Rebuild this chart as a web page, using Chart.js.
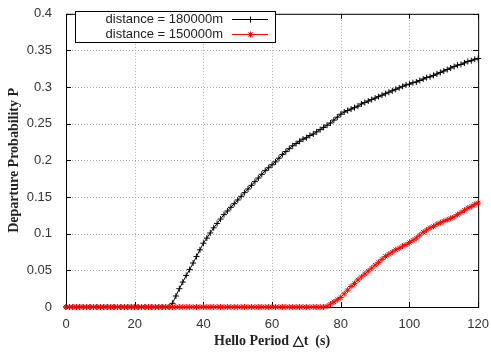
<!DOCTYPE html>
<html>
<head>
<meta charset="utf-8">
<script src="https://cdn.jsdelivr.net/npm/chart.js@4.4.1/dist/chart.umd.min.js"></script>
<style>
  html, body { margin: 0; padding: 0; background: #fff; }
  #wrap { width: 491px; height: 355px; }
</style>
</head>
<body>
<div id="wrap"><canvas id="chart" width="491" height="355"></canvas></div>
<script>
// --- DADOS ---
const periods = [
  0, 1, 2, 3, 4, 5, 6, 7, 8, 9, 10, 11, 12, 13, 14, 15, 16, 17, 18, 19,
  20, 21, 22, 23, 24, 25, 26, 27, 28, 29, 30, 31, 32, 33, 34, 35, 36, 37, 38, 39,
  40, 41, 42, 43, 44, 45, 46, 47, 48, 49, 50, 51, 52, 53, 54, 55, 56, 57, 58, 59,
  60, 61, 62, 63, 64, 65, 66, 67, 68, 69, 70, 71, 72, 73, 74, 75, 76, 77, 78, 79,
  80, 81, 82, 83, 84, 85, 86, 87, 88, 89, 90, 91, 92, 93, 94, 95, 96, 97, 98, 99,
  100, 101, 102, 103, 104, 105, 106, 107, 108, 109, 110, 111, 112, 113, 114, 115, 116, 117, 118, 119,
  120
];

const prob180k = [
  0, 0, 0, 0, 0, 0, 0, 0, 0, 0, 0, 0, 0, 0, 0, 0, 0, 0, 0, 0,
  0, 0, 0, 0, 0, 0, 0, 0, 0, 0, 0, 0.005, 0.015, 0.025, 0.034, 0.043, 0.051, 0.060, 0.069, 0.078,
  0.087, 0.094, 0.101, 0.108, 0.114, 0.120, 0.126, 0.131, 0.136, 0.141, 0.146, 0.151, 0.156, 0.161, 0.166, 0.171, 0.176, 0.181, 0.186, 0.190,
  0.194, 0.198, 0.203, 0.208, 0.212, 0.216, 0.220, 0.223, 0.226, 0.229, 0.231, 0.234, 0.236, 0.239, 0.242, 0.245, 0.248, 0.251, 0.255, 0.259,
  0.263, 0.266, 0.268, 0.270, 0.272, 0.274, 0.277, 0.279, 0.281, 0.283, 0.285, 0.287, 0.289, 0.291, 0.293, 0.295, 0.297, 0.299, 0.301, 0.303,
  0.304, 0.306, 0.307, 0.309, 0.311, 0.313, 0.314, 0.316, 0.318, 0.320, 0.322, 0.324, 0.326, 0.328, 0.330, 0.331, 0.333, 0.335, 0.336, 0.338,
  0.339
];

const prob150k = [
  0, 0, 0, 0, 0, 0, 0, 0, 0, 0, 0, 0, 0, 0, 0, 0, 0, 0, 0, 0,
  0, 0, 0, 0, 0, 0, 0, 0, 0, 0, 0, 0, 0, 0, 0, 0, 0, 0, 0, 0,
  0, 0, 0, 0, 0, 0, 0, 0, 0, 0, 0, 0, 0, 0, 0, 0, 0, 0, 0, 0,
  0, 0, 0, 0, 0, 0, 0, 0, 0, 0, 0, 0, 0, 0, 0, 0, 0.001, 0.004, 0.007, 0.010,
  0.013, 0.018, 0.023, 0.028, 0.032, 0.037, 0.041, 0.045, 0.049, 0.053, 0.057, 0.061, 0.065, 0.069, 0.072, 0.075, 0.078, 0.080, 0.083, 0.085,
  0.088, 0.091, 0.094, 0.098, 0.102, 0.105, 0.108, 0.110, 0.113, 0.115, 0.117, 0.119, 0.121, 0.123, 0.126, 0.129, 0.132, 0.135, 0.137, 0.140,
  0.142
];

const xTicks = [0, 20, 40, 60, 80, 100, 120];
const yTicks = [0, 0.05, 0.1, 0.15, 0.2, 0.25, 0.3, 0.35, 0.4];

const toPoints = (vals) => periods.map((p, i) => ({ x: p, y: vals[i] }));

// --- PLUGIN: grade pontilhada + moldura estilo gnuplot + legenda ---
const frame = {
  id: 'frame',
  beforeDatasetsDraw(chart) {
    const { ctx, chartArea: a, scales } = chart;
    ctx.save();
    // grade pontilhada
    ctx.strokeStyle = '#aaa';
    ctx.lineWidth = 1;
    ctx.setLineDash([1, 2]);
    ctx.beginPath();
    xTicks.forEach(v => {
      const px = Math.round(scales.x.getPixelForValue(v)) + 0.5;
      ctx.moveTo(px, a.top); ctx.lineTo(px, a.bottom);
    });
    yTicks.forEach(v => {
      const py = Math.round(scales.y.getPixelForValue(v)) + 0.5;
      ctx.moveTo(a.left, py); ctx.lineTo(a.right, py);
    });
    ctx.stroke();
    ctx.setLineDash([]);
    // moldura e marcas internas
    ctx.strokeStyle = '#000';
    ctx.strokeRect(a.left + 0.5, a.top + 0.5, a.right - a.left, a.bottom - a.top);
    ctx.beginPath();
    xTicks.forEach(v => {
      const px = Math.round(scales.x.getPixelForValue(v)) + 0.5;
      ctx.moveTo(px, a.bottom); ctx.lineTo(px, a.bottom - 5);
      ctx.moveTo(px, a.top); ctx.lineTo(px, a.top + 5);
    });
    yTicks.forEach(v => {
      const py = Math.round(scales.y.getPixelForValue(v)) + 0.5;
      ctx.moveTo(a.left, py); ctx.lineTo(a.left + 5, py);
      ctx.moveTo(a.right, py); ctx.lineTo(a.right - 5, py);
    });
    ctx.stroke();
    ctx.restore();
  },
  afterDatasetsDraw(chart) {
    const { ctx } = chart;
    const box = { x: 75.5, y: 11.5, w: 200, h: 31 };
    ctx.save();
    ctx.fillStyle = '#fff';
    ctx.fillRect(box.x, box.y, box.w, box.h);
    ctx.strokeStyle = '#000';
    ctx.lineWidth = 1;
    ctx.strokeRect(box.x, box.y, box.w, box.h);
    ctx.font = '13px "Liberation Sans", Arial, sans-serif';
    ctx.textAlign = 'right';
    ctx.textBaseline = 'middle';
    chart.data.datasets.forEach((ds, i) => {
      const y = 19 + i * 15;
      ctx.fillStyle = '#222';
      ctx.fillText(ds.label, 223, y);
      ctx.strokeStyle = ds.borderColor;
      ctx.beginPath();
      ctx.moveTo(232, y + 0.5); ctx.lineTo(268, y + 0.5);
      ctx.stroke();
      Chart.helpers.drawPoint(ctx, {
        pointStyle: ds.pointStyle, radius: ds.pointRadius, rotation: 0, borderWidth: 1
      }, 250.5, y + 0.5);
    });
    ctx.restore();
  }
};

const ctx = document.getElementById('chart').getContext('2d');
new Chart(ctx, {
  type: 'line',
  data: {
    datasets: [
      {
        label: 'distance = 180000m',
        data: toPoints(prob180k),
        borderColor: '#000',
        backgroundColor: '#000',
        borderWidth: 1,
        pointStyle: 'cross',
        pointRadius: 3,
        pointBorderWidth: 1,
        tension: 0,
        order: 2
      },
      {
        label: 'distance = 150000m',
        data: toPoints(prob150k),
        borderColor: '#ff0000',
        backgroundColor: '#ff0000',
        borderWidth: 1,
        pointStyle: 'star',
        pointRadius: 3,
        pointBorderWidth: 1,
        tension: 0,
        order: 1
      }
    ]
  },
  options: {
    responsive: false,
    animation: false,
    clip: false,
    layout: { padding: { top: 7, right: 9, left: 0, bottom: 0 } },
    plugins: {
      legend: { display: false },
      tooltip: { enabled: false }
    },
    scales: {
      x: {
        type: 'linear',
        min: 0, max: 120,
        afterFit: (s) => { s.height = 48; },
        afterBuildTicks: (s) => { s.ticks = xTicks.map(v => ({ value: v })); },
        ticks: {
          color: '#333',
          font: { family: '"Liberation Sans", Arial, sans-serif', size: 13 },
          padding: 2
        },
        grid: { display: false },
        border: { display: false },
        title: {
          display: true,
          text: 'Hello Period \u25B3t  (s)',
          color: '#222',
          font: { family: '"Liberation Serif", "Times New Roman", serif', size: 14, weight: 'bold' },
          padding: { top: 0, bottom: 5 }
        }
      },
      y: {
        type: 'linear',
        min: 0, max: 0.4,
        afterFit: (s) => { s.width = 66; },
        afterBuildTicks: (s) => { s.ticks = yTicks.map(v => ({ value: v })); },
        ticks: {
          color: '#333',
          font: { family: '"Liberation Sans", Arial, sans-serif', size: 13 },
          padding: 6,
          callback: (v) => String(parseFloat(v.toFixed(2)))
        },
        grid: { display: false },
        border: { display: false },
        title: {
          display: true,
          text: 'Departure Probability P',
          color: '#222',
          font: { family: '"Liberation Serif", "Times New Roman", serif', size: 14, weight: 'bold' },
          padding: { top: 6, bottom: 0 }
        }
      }
    }
  },
  plugins: [frame]
});
</script>
</body>
</html>
